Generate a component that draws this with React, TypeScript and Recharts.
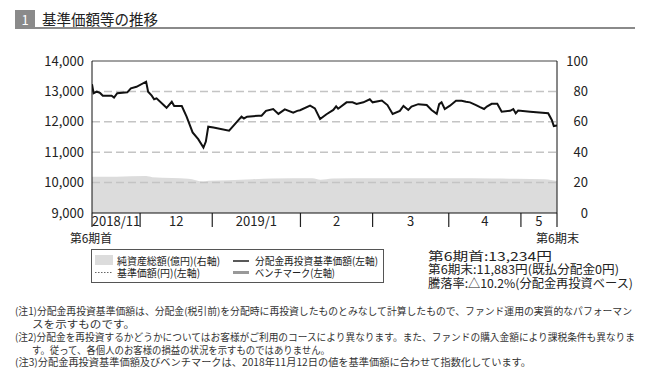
import React from 'react';
import { ComposedChart, Area, Line, XAxis, YAxis, ReferenceLine } from 'recharts';

// x axis: trading-day index from 2018/11/12 (第6期首) to 2019/5 (第6期末)
const monthLabels = ['2018/11', '12', '2019/1', '2', '3', '4', '5'];
const monthStarts = [0, 12, 30, 52, 70, 89, 107];
const lastDay = 116;

// 分配金再投資基準価額 (円, 左軸)
const navDays = [
  0, 0.4, 1.2, 2, 2.7, 4.9, 5.5, 6.3, 8.8, 9.7, 11.1, 13.5, 14, 14.9, 15.5, 16.1, 18.6, 19.9, 20.5, 22.4,
  23.6, 25.1, 26.5, 27.8, 28.4, 29, 30.3, 34.2, 35.7, 37.3, 37.9, 38.7, 41.5, 42.3, 43.4, 45.2, 46.5, 48.1,
  50.2, 51.2, 51.9, 54.4, 55.6, 56.9, 58.5, 60.2, 60.9, 61.4, 63.5, 65, 66, 67.7, 69.3, 70, 72.3, 73.7, 75,
  76.8, 77.7, 78.9, 79.7, 81.4, 83.5, 84.7, 86, 86.6, 87.2, 88, 89.3, 90.8, 92.2, 93.3, 94.3, 95.8, 96.8,
  97.8, 98.5, 99.7, 101.1, 102.2, 104.3, 105.1, 105.7, 106.3, 109.3, 113.8, 114.7, 115.2, 116,
];
const navValues = [
  13234, 12940, 12990, 12950, 12860, 12860, 12800, 12940, 12970, 13100, 13150, 13320, 12990, 12860, 12740,
  12770, 12460, 12660, 12520, 12520, 12170, 11650, 11430, 11150, 11350, 11840, 11810, 11710, 11930, 12170,
  12110, 12170, 12200, 12200, 12360, 12420, 12260, 12410, 12300, 12360, 12380, 12530, 12440, 12090, 12250,
  12390, 12510, 12430, 12640, 12640, 12590, 12640, 12740, 12640, 12700, 12550, 12260, 12360, 12520, 12390,
  12500, 12580, 12550, 12390, 12260, 12580, 12640, 12420, 12530, 12690, 12690, 12660, 12640, 12550, 12480,
  12420, 12500, 12590, 12590, 12330, 12360, 12420, 12280, 12370, 12330, 12280, 12060, 11860, 11883,
];

// 純資産総額 (億円, 右軸)
const assetDays = [0, 6, 13.5, 15, 20, 24, 27.8, 29, 34, 40, 45, 55, 57, 60, 70, 80, 90, 100, 106, 113, 116];
const assetValues = [23.8, 23.9, 24.3, 23.6, 23.0, 22.6, 20.7, 21.2, 21.6, 22.2, 22.7, 22.8, 21.9, 22.7, 22.9, 22.8, 22.9, 22.7, 22.5, 22.2, 21.0];

const leftTicks = [9000, 10000, 11000, 12000, 13000, 14000];
const rightTicks = [0, 20, 40, 60, 80, 100];
const gridLines = [10000, 11000, 12000, 13000];

const footnotes = [
  { x: 15, y: 315, len: 617, text: '(注1)分配金再投資基準価額は、分配金(税引前)を分配時に再投資したものとみなして計算したもので、ファンド運用の実質的なパフォーマン' },
  { x: 32, y: 328, len: 103, text: 'スを示すものです。' },
  { x: 15, y: 341, len: 620, text: '(注2)分配金を再投資するかどうかについてはお客様がご利用のコースにより異なります。また、ファンドの購入金額により課税条件も異なりま' },
  { x: 32, y: 354, len: 298, text: 'す。従って、各個人のお客様の損益の状況を示すものではありません。' },
  { x: 15, y: 366, len: 516, text: '(注3)分配金再投資基準価額及びベンチマークは、2018年11月12日の値を基準価額に合わせて指数化しています。' },
];

const FONT = '"Noto Sans CJK JP", "Noto Sans", sans-serif';

const navData = navDays.map((d, i) => ({ day: d, nav: navValues[i] }));
const assetData = assetDays.map((d, i) => ({ day: d, assets: assetValues[i] }));
const bounds = [...monthStarts, lastDay];
const labelTicks = monthStarts.map((s, i) => (s + bounds[i + 1]) / 2);

const RightTick = ({ x, y, payload }: any) => (
  <text x={x + 23} y={y} dy="0.35em" textAnchor="end" fontSize={13} fill="#222">
    {payload.value}
  </text>
);

export default function App() {
  return (
    <div style={{ position: 'absolute', left: 0, top: 0, width: 646, height: 379, background: '#fff', fontFamily: FONT }}>
      <ComposedChart width={646} height={379} margin={{ top: 61, right: 0, bottom: 146, left: 0 }} style={{ fontFamily: FONT }}>
        <XAxis
          xAxisId="d"
          dataKey="day"
          type="number"
          domain={[0, lastDay]}
          ticks={labelTicks}
          interval={0}
          tickFormatter={(v: number) => monthLabels[labelTicks.indexOf(v)]}
          tick={{ fontSize: 13, fill: '#222' }}
          tickLine={false}
          tickSize={0}
          tickMargin={4}
          axisLine={{ stroke: '#111' }}
          height={20}
          allowDataOverflow
        />
        <YAxis
          yAxisId="left"
          orientation="left"
          width={92}
          domain={[9000, 14000]}
          ticks={leftTicks}
          tickFormatter={(v: number) => v.toLocaleString('en-US')}
          tick={{ fontSize: 13, fill: '#222' }}
          tickLine={false}
          tickSize={0}
          tickMargin={8}
          axisLine={{ stroke: '#111' }}
        />
        <YAxis
          yAxisId="right"
          orientation="right"
          width={89}
          domain={[0, 100]}
          ticks={rightTicks}
          tick={<RightTick />}
          tickLine={false}
          tickSize={0}
          tickMargin={8}
          axisLine={{ stroke: '#111' }}
        />
        <Area
          xAxisId="d"
          yAxisId="right"
          data={assetData}
          dataKey="assets"
          type="monotone"
          fill="#dcdcdc"
          fillOpacity={1}
          stroke="none"
          isAnimationActive={false}
        />
        {gridLines.map((v) => (
          <ReferenceLine key={v} xAxisId="d" yAxisId="left" y={v} stroke="#c4c4c4" strokeWidth={1.5} strokeDasharray="8 4" />
        ))}
        <ReferenceLine xAxisId="d" yAxisId="left" y={14000} stroke="#444" strokeWidth={1} />
        {bounds.map((b) => (
          <ReferenceLine
            key={b}
            xAxisId="d"
            yAxisId="left"
            segment={[{ x: b, y: 9000 }, { x: b, y: 8540 }]}
            ifOverflow="visible"
            stroke="#222"
            strokeWidth={1.2}
          />
        ))}
        <Line
          xAxisId="d"
          yAxisId="left"
          data={navData}
          dataKey="nav"
          type="linear"
          stroke="#111"
          strokeWidth={2}
          dot={false}
          isAnimationActive={false}
        />
      </ComposedChart>

      <svg width={646} height={379} style={{ position: 'absolute', left: 0, top: 0, pointerEvents: 'none' }} fontFamily={FONT}>
        {/* title */}
        <rect x={15} y={10} width={20} height={19} fill="#8a8a8a" />
        <text x={25} y={24.5} textAnchor="middle" fontSize={13} fill="#fff">1</text>
        <rect x={35} y={27} width={600} height={2} fill="#8a8a8a" />
        <text x={42} y={25} fontSize={15} fill="#222" textLength={116} lengthAdjust="spacingAndGlyphs">基準価額等の推移</text>

        <text x={70} y={243} fontSize={12} fill="#222" textLength={42} lengthAdjust="spacingAndGlyphs">第6期首</text>
        <text x={536} y={243} fontSize={12} fill="#222" textLength={43} lengthAdjust="spacingAndGlyphs">第6期末</text>

        {/* legend */}
        <rect x={91.5} y={249.5} width={292} height={33} fill="#fff" stroke="#555" />
        <rect x={95} y={255} width={18} height={10} fill="#dcdcdc" />
        <text x={117} y={264.5} fontSize={10.5} fill="#222" textLength={103} lengthAdjust="spacingAndGlyphs">純資産総額(億円)(右軸)</text>
        <line x1={95} x2={113} y1={272.5} y2={272.5} stroke="#666" strokeDasharray="1.5 1.5" />
        <text x={117} y={276.5} fontSize={10.5} fill="#222" textLength={83} lengthAdjust="spacingAndGlyphs">基準価額(円)(左軸)</text>
        <line x1={233} x2={249} y1={261} y2={261} stroke="#222" strokeWidth={1.5} />
        <text x={255} y={264.5} fontSize={10.5} fill="#222" textLength={123} lengthAdjust="spacingAndGlyphs">分配金再投資基準価額(左軸)</text>
        <line x1={233} x2={249} y1={272.5} y2={272.5} stroke="#999" strokeWidth={3} />
        <text x={255} y={276.5} fontSize={10.5} fill="#222" textLength={80} lengthAdjust="spacingAndGlyphs">ベンチマーク(左軸)</text>

        {/* period summary */}
        <text x={428} y={260.5} fontSize={12} fill="#222" textLength={124} lengthAdjust="spacingAndGlyphs">第6期首:13,234円</text>
        <text x={428} y={274} fontSize={12} fill="#222" textLength={191} lengthAdjust="spacingAndGlyphs">第6期末:11,883円(既払分配金0円)</text>
        <text x={428} y={287.5} fontSize={12} fill="#222" textLength={205} lengthAdjust="spacingAndGlyphs">騰落率:△10.2%(分配金再投資ベース)</text>

        {/* notes */}
        {footnotes.map((n) => (
          <text key={n.y} x={n.x} y={n.y} fontSize={9.7} fill="#333" textLength={n.len} lengthAdjust="spacingAndGlyphs">
            {n.text}
          </text>
        ))}
      </svg>
    </div>
  );
}
